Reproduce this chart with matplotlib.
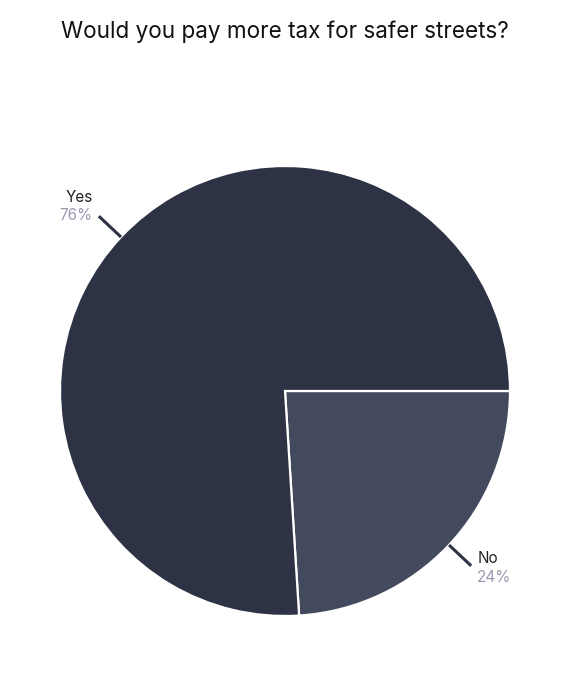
import numpy as np
import matplotlib.pyplot as plt

plt.rcParams['font.family'] = ['Inter', 'DejaVu Sans']

labels = ["No", "Yes"]
values = [24, 76]
colors = ["#434a5e", "#2e3245"]
title = "Would you pay more tax for safer streets?"

W, H, dpi = 588, 689, 100
cx, cy, R = 285, 391, 225  # pie centre/radius in pixels

fig = plt.figure(figsize=(W / dpi, H / dpi), dpi=dpi)
ax = fig.add_axes([0, 0, 1, 1])
ax.axis("off")

wedges, _ = ax.pie(values, colors=colors, startangle=0, counterclock=False,
                   radius=1.0, wedgeprops=dict(edgecolor="white", linewidth=1.6))
ax.set_xlim(-cx / R, (W - cx) / R)
ax.set_ylim(-(H - cy) / R, cy / R)

# leader lines + labels
for w, lab, v in zip(wedges, labels, values):
    ang = np.deg2rad((w.theta1 + w.theta2) / 2)
    x0, y0 = np.cos(ang) * 1.0, np.sin(ang) * 1.0
    x1, y1 = np.cos(ang) * 1.135, np.sin(ang) * 1.135
    ax.plot([x0, x1], [y0, y1], color="#2e3245", lw=2.2, solid_capstyle="butt")
    if x1 < 0:
        tx, ha = x1 - 6 / R, "right"
        ny, py = y1 + 14 / R, y1 - 4 / R
    else:
        tx, ha = x1 + 6 / R, "left"
        ny, py = y1 + 3 / R, y1 - 16 / R
    ax.text(tx, ny, lab, ha=ha, va="baseline", fontsize=11, color="#222222")
    ax.text(tx, py, f"{v}%", ha=ha, va="baseline", fontsize=11, color="#9b99b3")

fig.text(cx / W, 1 - 38 / H, title, ha="center", va="baseline", fontsize=16.2, color="#111111")

fig.savefig("out.png", dpi=dpi, facecolor="white")
